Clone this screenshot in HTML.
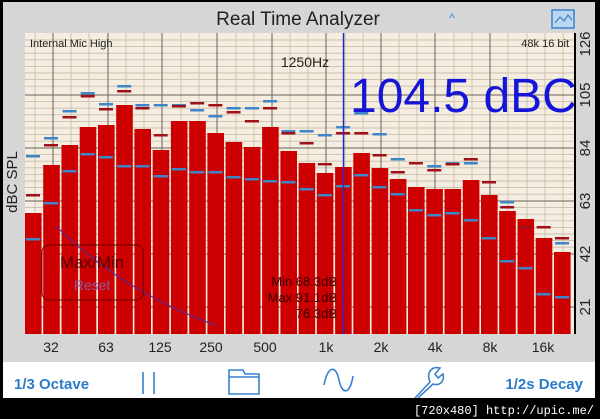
<!DOCTYPE html>
<html><head><meta charset="utf-8"><style>
html,body{margin:0;padding:0;background:#000;}
body{width:600px;height:419px;overflow:hidden;position:relative;font-family:"Liberation Sans",sans-serif;}
</style></head><body>
<svg width="600" height="419" viewBox="0 0 600 419" xmlns="http://www.w3.org/2000/svg" style="position:absolute;left:0;top:0">
<rect x="0" y="0" width="600" height="419" fill="#000"/>
<rect x="3" y="2" width="592" height="361" fill="#d6d6d6"/>
<rect x="3" y="362" width="592" height="36" fill="#fff"/>
<text x="298" y="25" font-size="19" text-anchor="middle" fill="#222">Real Time Analyzer</text>
<text x="452" y="22" font-size="12" fill="#3a82cc" text-anchor="middle">^</text>
<rect x="552" y="10" width="22" height="18" fill="#bcd7f0" stroke="#3a82cc" stroke-width="1.5"/>
<polyline points="555,23 560,17 564,21 568,15 572,20" fill="none" stroke="#3a82cc" stroke-width="1.2"/>
<rect x="25" y="33" width="549" height="301" fill="#f5eee0"/>
<g stroke="#c9bfae" stroke-width="0.9">
<line x1="25" y1="40" x2="574" y2="40"/><line x1="25" y1="46.6" x2="574" y2="46.6"/><line x1="25" y1="53.2" x2="574" y2="53.2"/><line x1="25" y1="59.8" x2="574" y2="59.8"/><line x1="25" y1="66.4" x2="574" y2="66.4"/><line x1="25" y1="73" x2="574" y2="73"/><line x1="25" y1="79.6" x2="574" y2="79.6"/><line x1="25" y1="86.2" x2="574" y2="86.2"/>
<line x1="25" y1="101.6" x2="574" y2="101.6"/><line x1="25" y1="108.2" x2="574" y2="108.2"/><line x1="25" y1="114.8" x2="574" y2="114.8"/><line x1="25" y1="121.4" x2="574" y2="121.4"/><line x1="25" y1="128" x2="574" y2="128"/><line x1="25" y1="134.6" x2="574" y2="134.6"/><line x1="25" y1="141.2" x2="574" y2="141.2"/>
<line x1="25" y1="154.6" x2="574" y2="154.6"/><line x1="25" y1="161.2" x2="574" y2="161.2"/><line x1="25" y1="167.8" x2="574" y2="167.8"/><line x1="25" y1="174.4" x2="574" y2="174.4"/><line x1="25" y1="181" x2="574" y2="181"/><line x1="25" y1="187.6" x2="574" y2="187.6"/><line x1="25" y1="194.2" x2="574" y2="194.2"/>
<line x1="25" y1="207.6" x2="574" y2="207.6"/><line x1="25" y1="214.2" x2="574" y2="214.2"/><line x1="25" y1="220.8" x2="574" y2="220.8"/><line x1="25" y1="227.4" x2="574" y2="227.4"/><line x1="25" y1="234" x2="574" y2="234"/><line x1="25" y1="240.6" x2="574" y2="240.6"/><line x1="25" y1="247.2" x2="574" y2="247.2"/>
<line x1="35" y1="33" x2="35" y2="334"/><line x1="71" y1="33" x2="71" y2="334"/><line x1="89" y1="33" x2="89" y2="334"/><line x1="126" y1="33" x2="126" y2="334"/><line x1="144" y1="33" x2="144" y2="334"/><line x1="181" y1="33" x2="181" y2="334"/><line x1="199" y1="33" x2="199" y2="334"/><line x1="236" y1="33" x2="236" y2="334"/><line x1="254" y1="33" x2="254" y2="334"/><line x1="290" y1="33" x2="290" y2="334"/><line x1="308" y1="33" x2="308" y2="334"/><line x1="345" y1="33" x2="345" y2="334"/><line x1="363" y1="33" x2="363" y2="334"/><line x1="399" y1="33" x2="399" y2="334"/><line x1="417" y1="33" x2="417" y2="334"/><line x1="454" y1="33" x2="454" y2="334"/><line x1="472" y1="33" x2="472" y2="334"/><line x1="508" y1="33" x2="508" y2="334"/><line x1="527" y1="33" x2="527" y2="334"/><line x1="545" y1="33" x2="545" y2="334"/><line x1="563" y1="33" x2="563" y2="334"/>
</g>
<g stroke="#6a6358" stroke-width="1">
<line x1="25" y1="95" x2="574" y2="95"/><line x1="25" y1="148" x2="574" y2="148"/><line x1="25" y1="201" x2="574" y2="201"/><line x1="25" y1="254" x2="574" y2="254"/><line x1="25" y1="307" x2="574" y2="307"/>
<line x1="53" y1="33" x2="53" y2="334"/><line x1="108" y1="33" x2="108" y2="334"/><line x1="162" y1="33" x2="162" y2="334"/><line x1="217" y1="33" x2="217" y2="334"/><line x1="272" y1="33" x2="272" y2="334"/><line x1="326" y1="33" x2="326" y2="334"/><line x1="381" y1="33" x2="381" y2="334"/><line x1="435" y1="33" x2="435" y2="334"/><line x1="490" y1="33" x2="490" y2="334"/>
</g>
<text x="30" y="47" font-size="11" fill="#222">Internal Mic High</text>
<text x="569" y="47" font-size="11" fill="#222" text-anchor="end">48k 16 bit</text>
<text x="305" y="67" font-size="14" fill="#222" text-anchor="middle">1250Hz</text>
<g fill="#cc0000">
<rect x="25" y="213" width="16.6" height="121"/><rect x="43.2" y="165" width="16.6" height="169"/><rect x="61.5" y="145" width="16.6" height="189"/><rect x="79.7" y="127" width="16.6" height="207"/><rect x="98" y="125" width="16.6" height="209"/><rect x="116.2" y="105" width="16.6" height="229"/><rect x="134.4" y="129" width="16.6" height="205"/><rect x="152.7" y="150" width="16.6" height="184"/><rect x="170.9" y="121" width="16.6" height="213"/><rect x="189.2" y="121" width="16.6" height="213"/><rect x="207.4" y="133" width="16.6" height="201"/><rect x="225.6" y="142" width="16.6" height="192"/><rect x="243.9" y="147" width="16.6" height="187"/><rect x="262.1" y="127" width="16.6" height="207"/><rect x="280.4" y="151" width="16.6" height="183"/><rect x="298.6" y="163" width="16.6" height="171"/><rect x="316.8" y="173" width="16.6" height="161"/><rect x="335.1" y="167" width="16.6" height="167"/><rect x="353.3" y="153" width="16.6" height="181"/><rect x="371.6" y="168" width="16.6" height="166"/><rect x="389.8" y="179" width="16.6" height="155"/><rect x="408" y="187" width="16.6" height="147"/><rect x="426.3" y="189" width="16.6" height="145"/><rect x="444.5" y="189" width="16.6" height="145"/><rect x="462.8" y="180" width="16.6" height="154"/><rect x="481" y="195" width="16.6" height="139"/><rect x="499.2" y="211" width="16.6" height="123"/><rect x="517.5" y="219" width="16.6" height="115"/><rect x="535.7" y="238" width="16.6" height="96"/><rect x="554" y="252" width="16.6" height="82"/>
</g>
<g fill="#3f86c8">
<rect x="26" y="155" width="14" height="2.5"/><rect x="44" y="137" width="14" height="2.5"/><rect x="62.5" y="110" width="14" height="2.5"/><rect x="80.7" y="92" width="14" height="2.5"/><rect x="99" y="103" width="14" height="2.5"/><rect x="117.2" y="85" width="14" height="2.5"/><rect x="135.4" y="104" width="14" height="2.5"/><rect x="153.7" y="104" width="14" height="2.5"/><rect x="171.9" y="104" width="14" height="2.5"/><rect x="190.2" y="109" width="14" height="2.5"/><rect x="208.4" y="115" width="14" height="2.5"/><rect x="226.6" y="107" width="14" height="2.5"/><rect x="244.9" y="107" width="14" height="2.5"/><rect x="263.1" y="100" width="14" height="2.5"/><rect x="281.4" y="130" width="14" height="2.5"/><rect x="299.6" y="130" width="14" height="2.5"/><rect x="317.8" y="134" width="14" height="2.5"/><rect x="336.1" y="126" width="14" height="2.5"/><rect x="354.3" y="112" width="14" height="2.5"/><rect x="372.6" y="133" width="14" height="2.5"/><rect x="390.8" y="158" width="14" height="2.5"/><rect x="427.3" y="165" width="14" height="2.5"/><rect x="445.5" y="162" width="14" height="2.5"/><rect x="463.8" y="162" width="14" height="2.5"/><rect x="500.2" y="201" width="14" height="2.5"/><rect x="555" y="242" width="14" height="2.5"/>
<rect x="26" y="238" width="14" height="2.5"/><rect x="44" y="202" width="14" height="2.5"/><rect x="62.5" y="170" width="14" height="2.5"/><rect x="80.7" y="153" width="14" height="2.5"/><rect x="99" y="156" width="14" height="2.5"/><rect x="117.2" y="165" width="14" height="2.5"/><rect x="135.4" y="165" width="14" height="2.5"/><rect x="153.7" y="175" width="14" height="2.5"/><rect x="171.9" y="168" width="14" height="2.5"/><rect x="190.2" y="171" width="14" height="2.5"/><rect x="208.4" y="171" width="14" height="2.5"/><rect x="226.6" y="176" width="14" height="2.5"/><rect x="244.9" y="178" width="14" height="2.5"/><rect x="263.1" y="180" width="14" height="2.5"/><rect x="281.4" y="181" width="14" height="2.5"/><rect x="299.6" y="188" width="14" height="2.5"/><rect x="317.8" y="194" width="14" height="2.5"/><rect x="336.1" y="185" width="14" height="2.5"/><rect x="354.3" y="174" width="14" height="2.5"/><rect x="372.6" y="186" width="14" height="2.5"/><rect x="390.8" y="193" width="14" height="2.5"/><rect x="408.9" y="209" width="14" height="2.5"/><rect x="427.3" y="214" width="14" height="2.5"/><rect x="445.5" y="212" width="14" height="2.5"/><rect x="463.8" y="219" width="14" height="2.5"/><rect x="482" y="237" width="14" height="2.5"/><rect x="500.2" y="260" width="14" height="2.5"/><rect x="518.5" y="267" width="14" height="2.5"/><rect x="536.7" y="293" width="14" height="2.5"/><rect x="555" y="296" width="14" height="2.5"/>
</g>
<g fill="#a01018">
<rect x="26" y="194" width="14" height="2.5"/><rect x="44" y="144" width="14" height="2.5"/><rect x="62.5" y="116" width="14" height="2.5"/><rect x="80.7" y="95" width="14" height="2.5"/><rect x="99" y="108" width="14" height="2.5"/><rect x="117.2" y="90" width="14" height="2.5"/><rect x="135.4" y="107" width="14" height="2.5"/><rect x="153.7" y="134" width="14" height="2.5"/><rect x="171.9" y="105" width="14" height="2.5"/><rect x="190.2" y="102" width="14" height="2.5"/><rect x="208.4" y="104" width="14" height="2.5"/><rect x="226.6" y="111" width="14" height="2.5"/><rect x="244.9" y="120" width="14" height="2.5"/><rect x="263.1" y="107" width="14" height="2.5"/><rect x="281.4" y="132" width="14" height="2.5"/><rect x="299.6" y="142" width="14" height="2.5"/><rect x="317.8" y="163" width="14" height="2.5"/><rect x="336.1" y="132" width="14" height="2.5"/><rect x="354.3" y="132" width="14" height="2.5"/><rect x="372.6" y="154" width="14" height="2.5"/><rect x="390.8" y="171" width="14" height="2.5"/><rect x="408.9" y="162" width="14" height="2.5"/><rect x="427.3" y="169" width="14" height="2.5"/><rect x="445.5" y="163" width="14" height="2.5"/><rect x="463.8" y="158" width="14" height="2.5"/><rect x="482" y="181" width="14" height="2.5"/><rect x="500.2" y="206" width="14" height="2.5"/><rect x="518.5" y="226" width="14" height="2.5"/><rect x="536.7" y="226" width="14" height="2.5"/><rect x="555" y="237" width="14" height="2.5"/>
</g>
<line x1="343.5" y1="33" x2="343.5" y2="334" stroke="#2a2ab8" stroke-width="1.5"/>
<text x="350" y="112" font-size="48" fill="#1515d8">104.5 dBC</text>
<rect x="574" y="33" width="2" height="301" fill="#000"/>
<g font-size="15" fill="#222" text-anchor="middle">
<text transform="translate(590,44) rotate(-90)">126</text>
<text transform="translate(590,95) rotate(-90)">105</text>
<text transform="translate(590,148) rotate(-90)">84</text>
<text transform="translate(590,201) rotate(-90)">63</text>
<text transform="translate(590,254) rotate(-90)">42</text>
<text transform="translate(590,307) rotate(-90)">21</text>
<text transform="translate(17,182) rotate(-90)">dBC SPL</text>
</g>
<path d="M56,226 Q120,290 215,325" fill="none" stroke="#5a2a90" stroke-width="1.2"/>
<rect x="42" y="245" width="101" height="55" rx="7" fill="none" stroke="#6a0000" stroke-width="1"/>
<text x="92" y="268" font-size="17" fill="#5a0000" text-anchor="middle">Max/Min</text>
<text x="92" y="290" font-size="14" fill="#8a5aa0" text-anchor="middle">Reset</text>
<g font-size="13" fill="#3a0000" text-anchor="end">
<text x="337" y="286">Min 68.3dB</text>
<text x="337" y="302">Max 91.1dB</text>
<text x="337" y="318">76.3dB</text>
</g>
<g font-size="14" fill="#222" text-anchor="middle">
<text x="51" y="352">32</text><text x="106" y="352">63</text><text x="160" y="352">125</text><text x="211" y="352">250</text><text x="265" y="352">500</text><text x="326" y="352">1k</text><text x="381" y="352">2k</text><text x="435" y="352">4k</text><text x="490" y="352">8k</text><text x="543" y="352">16k</text>
</g>
<g font-size="15" font-weight="bold" fill="#2a7cc7">
<text x="14" y="389">1/3 Octave</text>
<text x="583" y="389" text-anchor="end">1/2s Decay</text>
</g>
<g stroke="#3a82cc" stroke-width="1.6" fill="none">
<line x1="143" y1="372" x2="143" y2="394"/><line x1="154" y1="372" x2="154" y2="394"/>
<path d="M229,394 V370 H243 L245,374 H259 V394 Z M229,377 H259"/>
<path d="M324,385 C328,365 336,365 339,380 C342,395 350,395 353,376"/>
<path d="M415,398 L430,382 C426,372 432,366 440,368 L435,374 L438,378 L443,374 C445,382 439,386 433,384 L418,398"/>
</g>
<rect x="0" y="398" width="600" height="21" fill="#000"/>
<text x="594" y="414" font-size="12" fill="#fff" text-anchor="end" font-family="Liberation Mono, monospace">[720x480] http://upic.me/</text>
</svg>
</body></html>
